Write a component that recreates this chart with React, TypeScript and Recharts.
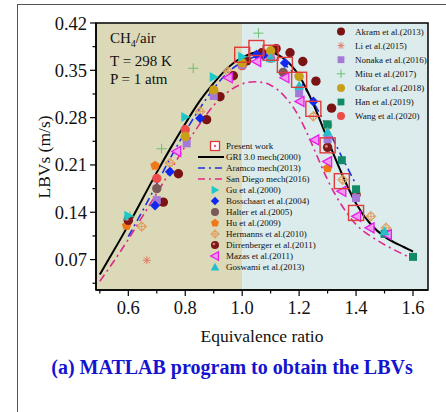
import React from 'react'
import { ComposedChart, Line, Scatter, XAxis, YAxis, ReferenceArea } from 'recharts'

const serif = '"Liberation Serif", "Times New Roman", serif'

// mechanism curves
const phiGrid = [0.5, 0.55, 0.6, 0.65, 0.7, 0.75, 0.8, 0.85, 0.9, 0.95, 1.0, 1.05, 1.1, 1.15, 1.2, 1.25, 1.3, 1.35, 1.4, 1.45, 1.5, 1.55, 1.6]
const griLbv = [0.048, 0.084, 0.121, 0.16, 0.199, 0.236, 0.271, 0.304, 0.331, 0.354, 0.369, 0.377, 0.377, 0.366, 0.342, 0.3, 0.248, 0.197, 0.153, 0.123, 0.104, 0.092, 0.082]
const sanDiegoLbv = [0.038, 0.068, 0.1, 0.134, 0.168, 0.203, 0.238, 0.27, 0.298, 0.318, 0.33, 0.333, 0.328, 0.311, 0.281, 0.236, 0.188, 0.15, 0.122, 0.105, 0.092, 0.081, 0.071]
const aramcoPhi = [0.6, 0.65, 0.7, 0.75, 0.8, 0.85, 0.9, 0.95, 1.0, 1.05, 1.1, 1.15, 1.2, 1.25, 1.3, 1.35, 1.4]
const aramcoLbv = [0.104, 0.142, 0.182, 0.222, 0.259, 0.293, 0.323, 0.347, 0.362, 0.37, 0.369, 0.358, 0.336, 0.303, 0.264, 0.222, 0.181]

// present work
const presentPhi = [1.0, 1.05, 1.1, 1.15, 1.2, 1.25, 1.3, 1.35, 1.4]
const presentLbv = [0.373, 0.383, 0.376, 0.358, 0.336, 0.293, 0.239, 0.186, 0.139]

// literature data [phi, LBV]
const akram = [[0.723, 0.155], [0.776, 0.197], [0.875, 0.277], [0.922, 0.311], [0.969, 0.342], [1.016, 0.364], [1.069, 0.376], [1.119, 0.382], [1.168, 0.376], [1.213, 0.363], [1.259, 0.334], [1.314, 0.294]]
const li = [[0.665, 0.069]]
const nonaka = [[0.7, 0.158], [0.805, 0.242], [0.9, 0.312], [1.0, 0.358], [1.1, 0.37], [1.2, 0.316], [1.3, 0.248], [1.4, 0.161]]
const mitu = [[0.606, 0.134], [0.717, 0.234], [0.828, 0.353], [1.057, 0.405]]
const okafor = [[0.8, 0.252], [0.9, 0.321], [1.0, 0.361], [1.1, 0.379], [1.2, 0.341], [1.3, 0.269]]
const han = [[1.3, 0.27], [1.35, 0.217], [1.4, 0.174], [1.5, 0.108], [1.6, 0.074]]
const wang = [[0.7, 0.19], [0.8, 0.262], [0.9, 0.318], [1.0, 0.357], [1.1, 0.368]]
const gu = [[0.6, 0.135], [0.8, 0.281], [0.9, 0.34], [1.0, 0.37]]
const bosschaart = [[0.694, 0.15], [0.746, 0.2], [0.852, 0.279], [1.05, 0.373], [1.074, 0.372], [1.15, 0.361], [1.25, 0.304]]
const halter = [[0.6, 0.13], [0.7, 0.175], [1.144, 0.347]]
const hu = [[0.594, 0.12], [0.694, 0.209], [1.3, 0.205]]
const hermanns = [[0.647, 0.119], [0.746, 0.213], [0.852, 0.289], [0.951, 0.348], [1.25, 0.282], [1.353, 0.188], [1.452, 0.134], [1.505, 0.117]]
const dirrenberger = [[0.6, 0.128], [1.3, 0.236], [1.4, 0.166]]
const mazas = [[0.77, 0.23], [0.951, 0.339], [1.051, 0.363], [1.15, 0.339], [1.203, 0.304], [1.255, 0.247], [1.3, 0.215], [1.35, 0.171], [1.402, 0.134], [1.449, 0.117], [1.51, 0.107]]
const goswami = [[1.1, 0.368], [1.2, 0.327], [1.3, 0.259], [1.5, 0.112]]

const xTicks = [0.5, 0.6, 0.7, 0.8, 0.9, 1.0, 1.1, 1.2, 1.3, 1.4, 1.5, 1.6]
const yTicks = [0.035, 0.07, 0.105, 0.14, 0.175, 0.21, 0.245, 0.28, 0.315, 0.35, 0.385, 0.42]

const toXY = (pts: number[][]) => pts.map(([x, y]) => ({ x, y }))
const zip = (xs: number[], ys: number[]) => xs.map((x, i) => ({ x, y: ys[i] }))

function drawMarker(kind: string, color: string, cx: number, cy: number, s = 1) {
  switch (kind) {
    case 'ball':
      return <circle cx={cx} cy={cy} r={4.7 * s} fill={color} />
    case 'sphere':
      return (
        <g>
          <circle cx={cx} cy={cy} r={4.7 * s} fill={color} />
          <circle cx={cx - 1.2 * s} cy={cy - 1.2 * s} r={1.5 * s} fill="#d08080" />
        </g>
      )
    case 'square':
      return <rect x={cx - 4 * s} y={cy - 4 * s} width={8 * s} height={8 * s} fill={color} />
    case 'plus':
      return (
        <g stroke={color} strokeWidth={1}>
          <line x1={cx - 5 * s} x2={cx + 5 * s} y1={cy} y2={cy} />
          <line x1={cx} x2={cx} y1={cy - 5 * s} y2={cy + 5 * s} />
        </g>
      )
    case 'star':
      return (
        <g stroke={color} strokeWidth={1}>
          <line x1={cx - 4 * s} x2={cx + 4 * s} y1={cy} y2={cy} />
          <line x1={cx} x2={cx} y1={cy - 4 * s} y2={cy + 4 * s} />
          <line x1={cx - 3 * s} x2={cx + 3 * s} y1={cy - 3 * s} y2={cy + 3 * s} />
          <line x1={cx - 3 * s} x2={cx + 3 * s} y1={cy + 3 * s} y2={cy - 3 * s} />
        </g>
      )
    case 'triR':
      return <polygon points={`${cx - 4 * s},${cy - 5 * s} ${cx + 5 * s},${cy} ${cx - 4 * s},${cy + 5 * s}`} fill={color} />
    case 'triU':
      return <polygon points={`${cx - 5 * s},${cy + 4 * s} ${cx},${cy - 5 * s} ${cx + 5 * s},${cy + 4 * s}`} fill={color} />
    case 'triL':
      return <polygon points={`${cx + 4 * s},${cy - 5 * s} ${cx - 5 * s},${cy} ${cx + 4 * s},${cy + 5 * s}`} fill="#f29af2" stroke={color} strokeWidth={1.3} />
    case 'diamond':
      return <polygon points={`${cx},${cy - 5 * s} ${cx + 5 * s},${cy} ${cx},${cy + 5 * s} ${cx - 5 * s},${cy}`} fill={color} />
    case 'pent': {
      const pts = [0, 1, 2, 3, 4].map(k => {
        const a = -Math.PI / 2 + (k * 2 * Math.PI) / 5
        return `${cx + 5 * s * Math.cos(a)},${cy + 5 * s * Math.sin(a)}`
      })
      return <polygon points={pts.join(' ')} fill={color} />
    }
    case 'hermanns':
      return (
        <g stroke={color} strokeWidth={1} fill="none">
          <polygon points={`${cx},${cy - 5 * s} ${cx + 5 * s},${cy} ${cx},${cy + 5 * s} ${cx - 5 * s},${cy}`} />
          <circle cx={cx} cy={cy} r={3.2 * s} />
          <line x1={cx - 5 * s} x2={cx + 5 * s} y1={cy} y2={cy} />
          <line x1={cx} x2={cx} y1={cy - 5 * s} y2={cy + 5 * s} />
        </g>
      )
    case 'present':
      return <rect x={cx - 7.5 * s} y={cy - 7.5 * s} width={15 * s} height={15 * s} fill="none" stroke={color} strokeWidth={1.4} />
    default:
      return <circle cx={cx} cy={cy} r={4} fill={color} />
  }
}

const series = [
  { name: 'Mitu et al.(2017)', data: mitu, kind: 'plus', color: '#6cc070' },
  { name: 'Li et al.(2015)', data: li, kind: 'star', color: '#e07a68' },
  { name: 'Hermanns et al.(2010)', data: hermanns, kind: 'hermanns', color: '#e0a060' },
  { name: 'Halter et al.(2005)', data: halter, kind: 'ball', color: '#7a5a58' },
  { name: 'Hu et al.(2009)', data: hu, kind: 'pent', color: '#f07818' },
  { name: 'Wang et al.(2020)', data: wang, kind: 'ball', color: '#ee4b4b' },
  { name: 'Dirrenberger et al.(2011)', data: dirrenberger, kind: 'sphere', color: '#801818' },
  { name: 'Akram et al.(2013)', data: akram, kind: 'ball', color: '#7a1414' },
  { name: 'Nonaka et al.(2016)', data: nonaka, kind: 'square', color: '#a47ad8' },
  { name: 'Okafor et al.(2018)', data: okafor, kind: 'ball', color: '#c8a018' },
  { name: 'Han et al.(2019)', data: han, kind: 'square', color: '#118a6a' },
  { name: 'Gu et al.(2000)', data: gu, kind: 'triR', color: '#1cc8c8' },
  { name: 'Bosschaart et al.(2004)', data: bosschaart, kind: 'diamond', color: '#1028f0' },
  { name: 'Mazas et al.(2011)', data: mazas, kind: 'triL', color: '#e81ee8' },
  { name: 'Goswami et al.(2013)', data: goswami, kind: 'triU', color: '#22c0c8' },
]

const rightLegend = ['Akram et al.(2013)', 'Li et al.(2015)', 'Nonaka et al.(2016)', 'Mitu et al.(2017)', 'Okafor et al.(2018)', 'Han et al.(2019)', 'Wang et al.(2020)']
const lowerMarkers = ['Gu et al.(2000)', 'Bosschaart et al.(2004)', 'Halter et al.(2005)', 'Hu et al.(2009)', 'Hermanns et al.(2010)', 'Dirrenberger et al.(2011)', 'Mazas et al.(2011)', 'Goswami et al.(2013)']

function YTick({ x, y, payload }: any) {
  const v = payload.value
  const major = Math.round(v * 1000) % 70 === 0
  return (
    <g>
      <line x1={x} x2={x - (major ? 6 : 3.5)} y1={y} y2={y} stroke="#000" strokeWidth={1.2} />
      {major && (
        <text x={x - 9} y={y + 6.5} textAnchor="end" fontSize={18.5} fontFamily={serif} fill="#111">
          {v.toFixed(2)}
        </text>
      )}
    </g>
  )
}

function XTick({ x, y, payload }: any) {
  const v = payload.value
  const major = Math.round(v * 10) % 2 === 0
  return (
    <g>
      <line x1={x} x2={x} y1={y} y2={y + (major ? 6 : 3.5)} stroke="#000" strokeWidth={1.2} />
      {major && (
        <text x={x} y={y + 24} textAnchor="middle" fontSize={18.5} fontFamily={serif} fill="#111">
          {v.toFixed(1)}
        </text>
      )}
    </g>
  )
}

const X_MIN = 0.4865
const X_MAX = 1.6527
const Y_MIN = 0.025
const Y_MAX = 0.42

export default function App() {
  const byName = (n: string) => series.find(s => s.name === n)!
  return (
    <div style={{ position: 'absolute', left: 0, top: 0, width: 446, height: 412, overflow: 'hidden', background: '#fff' }}>
      <div style={{ position: 'absolute', left: 17, top: 4, width: 600, height: 600, border: '1.5px solid #555' }} />
      <ComposedChart width={446} height={412} margin={{ top: 23, right: 18, bottom: 92, left: 36 }} style={{ position: 'absolute', left: 0, top: 0 }}>
        <XAxis
          type="number"
          dataKey="x"
          domain={[X_MIN, X_MAX]}
          ticks={xTicks}
          allowDataOverflow
          height={30}
          tickSize={0}
          tickMargin={0}
          tickLine={false}
          tick={<XTick />}
          interval={0}
          axisLine={{ stroke: '#000', strokeWidth: 1.5 }}
        />
        <YAxis
          type="number"
          dataKey="y"
          domain={[Y_MIN, Y_MAX]}
          ticks={yTicks}
          allowDataOverflow
          width={60}
          tickSize={0}
          tickMargin={0}
          tickLine={false}
          tick={<YTick />}
          interval={0}
          axisLine={{ stroke: '#000', strokeWidth: 1.5 }}
        />
        <ReferenceArea x1={X_MIN} x2={1.0} y1={Y_MIN} y2={Y_MAX} fill="#dcd9b8" fillOpacity={1} stroke="none" ifOverflow="visible" />
        <ReferenceArea x1={1.0} x2={X_MAX} y1={Y_MIN} y2={Y_MAX} fill="#dcecec" fillOpacity={1} stroke="none" ifOverflow="visible" />
        {series.map(s => (
          <Scatter
            key={s.name}
            name={s.name}
            data={toXY(s.data)}
            isAnimationActive={false}
            shape={(p: any) => drawMarker(s.kind, s.color, p.cx, p.cy)}
          />
        ))}
        <Scatter
          name="Present work"
          data={zip(presentPhi, presentLbv)}
          isAnimationActive={false}
          shape={(p: any) => drawMarker('present', '#e03a3a', p.cx, p.cy)}
        />
        <Line data={zip(phiGrid, sanDiegoLbv)} dataKey="y" type="natural" stroke="#e0288a" strokeWidth={1.6} strokeDasharray="8 4 2 4" dot={false} isAnimationActive={false} />
        <Line data={zip(aramcoPhi, aramcoLbv)} dataKey="y" type="natural" stroke="#2030e0" strokeWidth={1.6} strokeDasharray="8 4 2 4" dot={false} isAnimationActive={false} />
        <Line data={zip(phiGrid, griLbv)} dataKey="y" type="natural" stroke="#000" strokeWidth={2} dot={false} isAnimationActive={false} />
        <ReferenceArea x1={X_MIN} x2={X_MAX} y1={Y_MIN} y2={Y_MAX} fill="none" stroke="#000" strokeWidth={1.5} ifOverflow="visible" />
      </ComposedChart>

      <svg width={446} height={412} style={{ position: 'absolute', left: 0, top: 0, pointerEvents: 'none' }} fontFamily={serif}>
        <text x={110} y={43} fontSize={15} fill="#111">
          <tspan>CH</tspan>
          <tspan dy={4} fontSize={10}>4</tspan>
          <tspan dy={-4}>/air</tspan>
        </text>
        <text x={110} y={66} fontSize={15} fill="#111">T = 298 K</text>
        <text x={110} y={84} fontSize={15} fill="#111">P = 1 atm</text>

        {rightLegend.map((n, i) => {
          const s = byName(n)
          const cy = 31.5 + i * 14.1
          return (
            <g key={n}>
              {drawMarker(s.kind, s.color, 341, cy, 0.85)}
              <text x={355} y={cy + 3.2} fontSize={9} fill="#111">{n}</text>
            </g>
          )
        })}

        <g>
          <rect x={210.5} y={141.5} width={9} height={9} fill="#fff" stroke="#e03a3a" strokeWidth={1.3} />
          <circle cx={215} cy={146} r={1.2} fill="#e06080" />
          <text x={226} y={149.2} fontSize={9} fill="#111">Present work</text>
          <line x1={198} x2={224} y1={157} y2={157} stroke="#000" strokeWidth={2} />
          <text x={226} y={160.2} fontSize={9} fill="#111">GRI 3.0 mech(2000)</text>
          <line x1={198} x2={224} y1={168} y2={168} stroke="#2030e0" strokeWidth={1.6} strokeDasharray="7 4 2 4" />
          <text x={226} y={171.2} fontSize={9} fill="#111">Aramco mech(2013)</text>
          <line x1={198} x2={224} y1={179} y2={179} stroke="#e0288a" strokeWidth={1.6} strokeDasharray="7 4 2 4" />
          <text x={226} y={182.2} fontSize={9} fill="#111">San Diego mech(2016)</text>
          {lowerMarkers.map((n, i) => {
            const s = byName(n)
            const cy = 190 + i * 11
            return (
              <g key={n}>
                {drawMarker(s.kind, s.color, 215, cy, 0.85)}
                <text x={226} y={cy + 3.2} fontSize={9} fill="#111">{n}</text>
              </g>
            )
          })}
        </g>

        <text transform="translate(50,157) rotate(-90)" textAnchor="middle" fontSize={17.5} fill="#111">LBVs (m/s)</text>
        <text x={262} y={342} textAnchor="middle" fontSize={17.5} fill="#111">Equivalence ratio</text>
        <text x={232} y={374} textAnchor="middle" fontSize={20} fontWeight="bold" fill="#1414d0">
          (a) MATLAB program to obtain the LBVs
        </text>
      </svg>
    </div>
  )
}
